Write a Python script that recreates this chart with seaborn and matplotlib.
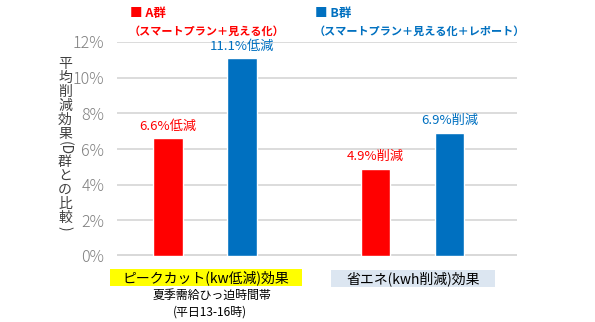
import matplotlib
matplotlib.use("Agg")
import matplotlib.pyplot as plt
from matplotlib.patches import Rectangle
import pandas as pd
import seaborn as sns

# ---- data ----
effects = ["ピークカット(kw低減)効果", "省エネ(kwh削減)効果"]
effect_notes = ["夏季需給ひっ迫時間帯", "(平日13-16時)"]
groups = ["A群", "B群"]
group_desc = ["（スマートプラン＋見える化）", "（スマートプラン＋見える化＋レポート）"]
values_a = [6.6, 4.9]
values_b = [11.1, 6.9]
label_words = ["低減", "削減"]
y_ticks = [0, 2, 4, 6, 8, 10, 12]
y_label_parts = ["平均削減効果", "(D", "群との比較", ")"]

RED = "#ff0000"
BLUE = "#0070c0"
GRID = "#d9d9d9"
TICK = "#7f7f7f"

sns.set_theme(style="white")
plt.rcParams["font.family"] = ["Noto Sans CJK JP", "DejaVu Sans"]

df = pd.DataFrame({
    "effect": effects * 2,
    "group": [groups[0]] * 2 + [groups[1]] * 2,
    "value": values_a + values_b,
})

W, H = 595, 322
fig = plt.figure(figsize=(W / 100, H / 100), dpi=100)
x0, x1, ytop, ybot = 117, 517, 42, 256
ax = fig.add_axes([x0 / W, 1 - ybot / H, (x1 - x0) / W, (ybot - ytop) / H])

sns.barplot(data=df, x="effect", y="value", hue="group", order=effects,
            hue_order=groups, palette=[RED, BLUE], saturation=1,
            width=0.712, gap=0.6, legend=False, ax=ax, zorder=3)

ax.set_xlim(-0.422, 1.502)
ax.set_ylim(0, 12)
ax.set_yticks(y_ticks)
ax.set_yticklabels([f"{t}%" for t in y_ticks], color=TICK, fontsize=11.5,
                   fontweight="light")
ax.tick_params(axis="y", length=0, pad=9)
ax.set_xticks([])
ax.set_xlabel("")
ax.set_ylabel("")
for s in ax.spines.values():
    s.set_visible(False)
for t in y_ticks[1:]:
    ax.axhline(t, color=GRID, lw=1.3, zorder=1)
ax.axhline(0, color=GRID, lw=3.6, zorder=1)

# value labels above bars
for container, color in zip(ax.containers, [RED, BLUE]):
    vals = [b.get_height() for b in container]
    ax.bar_label(container, labels=[f"{v}%{w}" for v, w in zip(vals, label_words)],
                 padding=4, color=color, fontsize=9.5)

def ftext(x, y, s, **kw):
    fig.text(x / W, 1 - y / H, s, **kw)

# legend at the top
for gx, g, desc, color in zip([130, 315], groups, group_desc, [RED, BLUE]):
    ftext(gx, 13, "■ " + g, color=color, fontsize=9, fontweight="bold",
          va="center", ha="left")
    ftext(gx - 1, 31, desc, color=color, fontsize=8.0, fontweight="bold",
          va="center", ha="left")

# category boxes below the axis
boxes = [(110, 269, 192, 17, "#ffff00"), (331, 270, 164, 17, "#dce6f1")]
for (bx, by, bw, bh, fc), name in zip(boxes, effects):
    fig.patches.append(Rectangle((bx / W, 1 - (by + bh) / H), bw / W, bh / H,
                                 transform=fig.transFigure, facecolor=fc,
                                 edgecolor="none", zorder=0))
    ftext(bx + bw / 2, by + bh / 2, name, color="black", fontsize=10,
          ha="center", va="center")
ftext(212, 295, effect_notes[0], color="black", fontsize=8.6, ha="center", va="center")
ftext(210, 312, effect_notes[1], color="black", fontsize=8.6, ha="center", va="center")

# vertical axis title: CJK stacked upright, Latin runs turned sideways
title_kw = dict(color="#404040", fontsize=10, ha="center", va="center")
ftext(65, 99, "\n".join(y_label_parts[0]), linespacing=1.0, **title_kw)
ftext(65, 148, y_label_parts[1], rotation=-90, **title_kw)
ftext(65, 190, "\n".join(y_label_parts[2]), linespacing=1.0, **title_kw)
ftext(65, 228, y_label_parts[3], rotation=-90, **title_kw)

fig.savefig("out.png", dpi=100)
